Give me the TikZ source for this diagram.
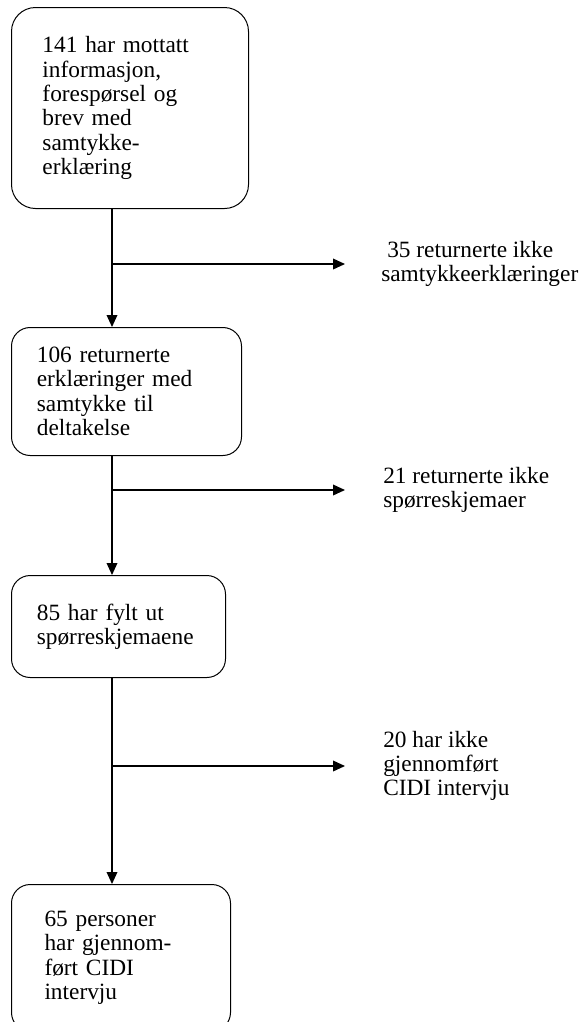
\documentclass[tikz,border=0pt]{standalone}
\usepackage{fontspec}
\setmainfont{Liberation Serif}
\usetikzlibrary{positioning,arrows.meta,calc}

\begin{document}
\begin{tikzpicture}[
    >={Triangle[length=9pt,width=8pt]},
    stage/.style={draw, rounded corners=14pt, line width=0.75pt, align=left,
                  inner ysep=0pt, anchor=north west,
                  font=\fontsize{17.5pt}{18.25pt}\selectfont},
    lost/.style={align=left, inner sep=0pt,
                 font=\fontsize{17.5pt}{18.25pt}\selectfont},
    arrow/.style={->, line width=1.1pt},
]
    \useasboundingbox (0,0) rectangle (435.75pt,-766.5pt);

    % Stages of the sample
    \node[stage, rounded corners=18pt, minimum width=177.75pt, minimum height=150.75pt,
          inner xsep=23.25pt, text width=131.25pt] (mottatt) at (8.25pt,-5.25pt)
        {141 har mottatt\\informasjon,\\forespørsel og\\brev med\\samtykke-\\erklæring};
    \node[stage, below right=88.5pt and 0pt of mottatt.south west, minimum width=172.5pt,
          minimum height=96pt, inner xsep=19pt, text width=134.5pt] (samtykke)
        {106 returnerte\\erklæringer med\\samtykke til\\deltakelse};
    \node[stage, below right=89.25pt and 0pt of samtykke.south west, minimum width=160.5pt,
          minimum height=76.5pt, inner xsep=19pt, text width=122.5pt] (skjema)
        {85 har fylt ut\\spørreskjemaene};
    \node[stage, below right=154.5pt and 0pt of skjema.south west, minimum width=164.25pt,
          minimum height=110pt, inner xsep=24.75pt, text width=114.75pt] (cidi)
        {65 personer\\har gjennom-\\ført CIDI\\intervju};

    % Trunk and branch points
    \coordinate (trunk) at ($(mottatt.south west)+(75.75pt,0)$);
    \coordinate (split1) at ($(mottatt.south -| trunk)+(0,-41.25pt)$);
    \coordinate (split2) at ($(samtykke.south -| trunk)+(0,-25.5pt)$);
    \coordinate (split3) at ($(skjema.south -| trunk)+(0,-66pt)$);
    \coordinate (end1) at ($(split1)+(174.75pt,0)$);
    \coordinate (end2) at ($(split2)+(174.75pt,0)$);
    \coordinate (end3) at ($(split3)+(174.75pt,0)$);

    % Drop-outs
    \node[lost, right=27pt of end1] (lost1) {\hspace*{4.5pt}35 returnerte ikke\\samtykkeerklæringer};
    \node[lost, right=28.5pt of end2] (lost2) {21 returnerte ikke\\spørreskjemaer};
    \node[lost, right=28.5pt of end3] (lost3) {20 har ikke\\gjennomført\\CIDI intervju};

    % Main arrows
    \draw[arrow] (mottatt.south -| trunk)  -- (samtykke.north -| trunk);
    \draw[arrow] (samtykke.south -| trunk) -- (skjema.north -| trunk);
    \draw[arrow] (skjema.south -| trunk)   -- (cidi.north -| trunk);

    % Side arrows
    \draw[arrow] (split1) -- (end1);
    \draw[arrow] (split2) -- (end2);
    \draw[arrow] (split3) -- (end3);
\end{tikzpicture}
\end{document}
